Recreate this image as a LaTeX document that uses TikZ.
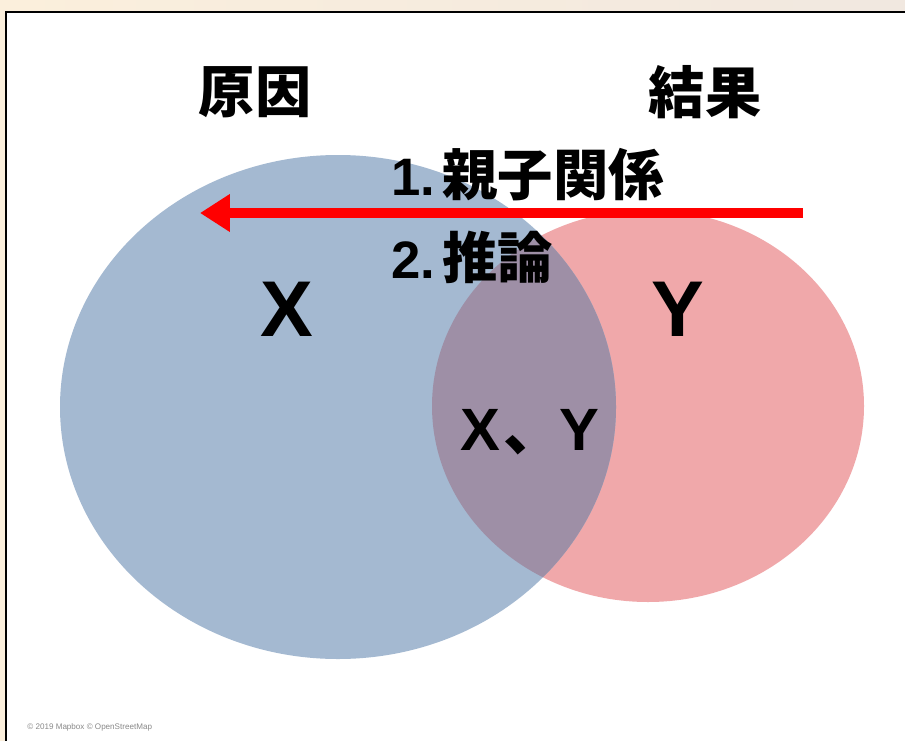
\documentclass[tikz,border=0pt]{standalone}
\usepackage{fontspec}
\setmainfont{Liberation Sans}
\newfontfamily\cjk{Noto Sans CJK JP}
\usetikzlibrary{arrows.meta}
\definecolor{bgbeige}{HTML}{FBEFDC}
\definecolor{bgbeige2}{HTML}{F1E8E0}
\definecolor{blueset}{HTML}{A4B9D1}
\definecolor{pinkset}{HTML}{F0A8AA}
\definecolor{overlapset}{HTML}{9E8FA6}
\definecolor{copygray}{HTML}{8A8A8A}
\begin{document}
\begin{tikzpicture}[x=0.02cm,y=-0.02cm,
  heading/.style={font=\cjk\bfseries\fontsize{32}{32}\selectfont, inner sep=0pt},
  sublabel/.style={font=\bfseries\fontsize{30}{30}\selectfont, inner sep=0pt, anchor=west},
  setlabel/.style={font=\bfseries\fontsize{45}{45}\selectfont, inner sep=0pt},
  relarrow/.style={draw=red, line width=10*0.569pt, -{Triangle[length=30*0.569pt,width=36*0.569pt]}}]
\useasboundingbox (0,0) rectangle (905,740);
% background and frame
\shade[left color=bgbeige, right color=bgbeige2] (0,0) rectangle (905,740);
\draw[gray!60, line width=1.2pt] (7,13) -- (920,13);
\draw[gray!60, line width=1.2pt] (7,13) -- (7,760);
\fill[white] (6,12) rectangle (920,760);
\draw[black, line width=1.4pt] (6,760) -- (6,12) -- (920,12);
% sets
\coordinate (cx) at (338,407);
\coordinate (cy) at (648,406);
\fill[pinkset] (cy) ellipse [x radius=216, y radius=196];
\fill[blueset] (cx) ellipse [x radius=278, y radius=252];
\begin{scope}
  \clip (cx) ellipse [x radius=278, y radius=252];
  \fill[overlapset] (cy) ellipse [x radius=216, y radius=196];
\end{scope}
% headings
\node[heading] (cause) at (255,92) {原因};
\node[heading] (effect) at (705,92) {結果};
% arrow
\coordinate (astart) at (803,213);
\coordinate (aend) at (200,213);
\draw[relarrow] (astart) -- (aend);
\node[sublabel] (rel1) at (391,175) {1.\hspace{4pt}{\cjk\bfseries\fontsize{31.5}{31.5}\selectfont 親子関係}};
\node[sublabel] (rel2) at (391,257) {2.\hspace{4pt}{\cjk\bfseries\fontsize{31.5}{31.5}\selectfont 推論}};
% set labels
\node[setlabel] (xl) at (287,309) {X};
\node[setlabel] (yl) at (678,309) {Y};
\node[font=\bfseries\fontsize{34}{34}\selectfont, inner sep=0pt] (xyl) at (530,432) {X\hspace{2pt}{\cjk\bfseries 、}\hspace{-2pt}Y};
% copyright
\node[font=\fontsize{4.6}{5}\selectfont, text=copygray, anchor=west, inner sep=0pt] (copy) at (27,727) {© 2019 Mapbox © OpenStreetMap};
\end{tikzpicture}
\end{document}
